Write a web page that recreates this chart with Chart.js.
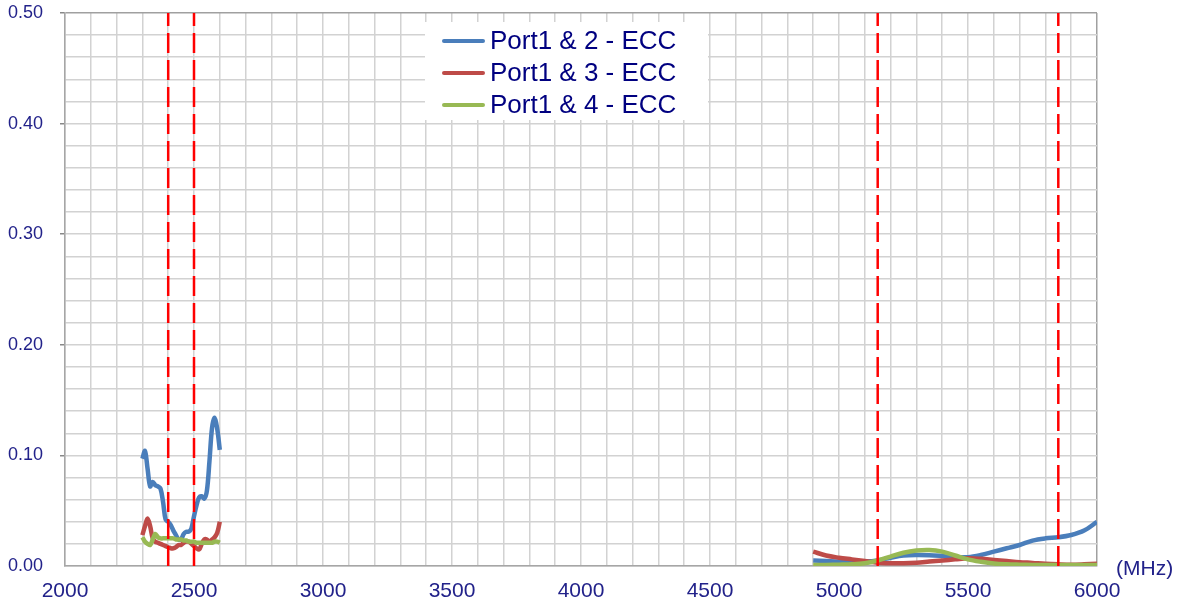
<!DOCTYPE html>
<html>
<head>
<meta charset="utf-8">
<title>ECC</title>
<script src="https://cdn.jsdelivr.net/npm/chart.js@4.4.1/dist/chart.umd.min.js"></script>
<style>
    html, body { margin: 0; padding: 0; background: #fff; }
    #wrap { width: 1181px; height: 609px; position: relative; }
</style>
</head>
<body>
<div id="wrap"><canvas id="chart-ecc"></canvas></div>
<script>
// Frequencies (MHz)
const LOW_FREQ = [2300, 2310, 2320, 2330, 2340, 2350, 2360, 2370, 2380, 2390, 2400,
    2410, 2420, 2430, 2440, 2450, 2460, 2470, 2480, 2490, 2500,
    2510, 2520, 2530, 2540, 2550, 2560, 2570, 2580, 2590, 2600];
const HIGH_FREQ = [4900, 4950, 5000, 5050, 5100, 5150, 5200, 5250, 5300, 5350, 5400,
    5450, 5500, 5550, 5600, 5650, 5700, 5750, 5800, 5850, 5900, 5950, 6000];

// Port1 & 2
const ECC12_LOW = [0.097, 0.104, 0.088, 0.072, 0.076, 0.073, 0.072, 0.070, 0.058, 0.042, 0.040,
    0.037, 0.032, 0.028, 0.024, 0.024, 0.029, 0.031, 0.031, 0.034, 0.045,
    0.055, 0.062, 0.063, 0.061, 0.068, 0.095, 0.125, 0.134, 0.124, 0.105];
const ECC12_HIGH = [0.005, 0.0045, 0.004, 0.004, 0.004, 0.005, 0.0075, 0.0095, 0.010, 0.0098, 0.009,
    0.008, 0.008, 0.010, 0.013, 0.016, 0.019, 0.023, 0.025, 0.026, 0.028, 0.032, 0.040];

// Port1 & 3
const ECC13_LOW = [0.028, 0.036, 0.043, 0.036, 0.025, 0.022, 0.021, 0.020, 0.019, 0.018, 0.017,
    0.016, 0.016, 0.017, 0.019, 0.019, 0.021, 0.022, 0.022, 0.020, 0.018,
    0.016, 0.015, 0.020, 0.024, 0.024, 0.022, 0.024, 0.026, 0.030, 0.040];
const ECC13_HIGH = [0.013, 0.0095, 0.0075, 0.006, 0.0045, 0.003, 0.0025, 0.0025, 0.003, 0.004, 0.005,
    0.006, 0.007, 0.0065, 0.0055, 0.0045, 0.0035, 0.0028, 0.002, 0.0015, 0.0012, 0.0015, 0.002];

// Port1 & 4
const ECC14_LOW = [0.026, 0.022, 0.020, 0.019, 0.024, 0.029, 0.026, 0.025, 0.025, 0.025, 0.025,
    0.025, 0.025, 0.024, 0.024, 0.024, 0.023, 0.023, 0.022, 0.022, 0.022,
    0.021, 0.021, 0.021, 0.021, 0.021, 0.021, 0.021, 0.022, 0.022, 0.021];
const ECC14_HIGH = [0.001, 0.001, 0.0012, 0.0015, 0.0025, 0.005, 0.0085, 0.012, 0.014, 0.0145, 0.013,
    0.0095, 0.006, 0.0038, 0.0022, 0.0015, 0.0012, 0.001, 0.001, 0.001, 0.001, 0.001, 0.001];

// Band edges (red dashed markers)
const BAND_EDGES = [2400, 2500, 5150, 5850];

const SERIES_LABELS = ['Port1 & 2 - ECC', 'Port1 & 3 - ECC', 'Port1 & 4 - ECC'];
const SERIES_COLORS = ['#4A7EBB', '#BE4B48', '#98B954'];

const X_LABELS = [2000, 2500, 3000, 3500, 4000, 4500, 5000, 5500, 6000];
const Y_LABELS = [0, 0.1, 0.2, 0.3, 0.4, 0.5];

const TEXT_COLOR = '#22228a';
const FONT = "'Liberation Sans', Arial, sans-serif";

function toPoints(low, high) {
    const a = LOW_FREQ.map((f, i) => ({ x: f, y: low[i] }));
    const b = HIGH_FREQ.map((f, i) => ({ x: f, y: high[i] }));
    // null point breaks the line between the two bands
    return a.concat([{ x: 3700, y: null }], b);
}

function isYLabel(v) {
    return Y_LABELS.some(l => Math.abs(l - v) < 1e-6);
}

const seriesData = [
    toPoints(ECC12_LOW, ECC12_HIGH),
    toPoints(ECC13_LOW, ECC13_HIGH),
    toPoints(ECC14_LOW, ECC14_HIGH),
];

const datasets = seriesData.map((pts, i) => ({
    label: SERIES_LABELS[i],
    data: pts,
    borderColor: SERIES_COLORS[i],
    backgroundColor: SERIES_COLORS[i],
    borderWidth: 4.5,
    pointRadius: 0,
    tension: 0.35,
    fill: false,
    order: 2 - i,
}));

BAND_EDGES.forEach(f => {
    datasets.push({
        label: 'edge',
        isMarker: true,
        data: [{ x: f, y: 0 }, { x: f, y: 0.5 }],
        borderColor: '#ff0000',
        borderWidth: 2.5,
        borderDash: [20, 7],
        pointRadius: 0,
        fill: false,
        order: -1,
    });
});

// legend box drawn over the plot, like the original
const eccLegend = {
    id: 'eccLegend',
    afterDraw(chart) {
        const ctx = chart.ctx;
        const area = chart.chartArea;
        const left = area.left + 360;
        const top = area.top + 9;
        ctx.save();
        ctx.fillStyle = '#ffffff';
        ctx.fillRect(left, top, 283, 98);
        const items = chart.data.datasets.filter(d => !d.isMarker);
        ctx.font = '26px ' + FONT;
        ctx.textBaseline = 'middle';
        ctx.textAlign = 'left';
        items.forEach((d, i) => {
            const y = top + 19 + i * 32;
            ctx.strokeStyle = d.borderColor;
            ctx.lineWidth = 4;
            ctx.lineCap = 'round';
            ctx.beginPath();
            ctx.moveTo(left + 19, y);
            ctx.lineTo(left + 58, y);
            ctx.stroke();
            ctx.fillStyle = '#000080';
            ctx.fillText(d.label, left + 65, y + 1);
        });
        ctx.restore();
    }
};

const unitLabel = {
    id: 'unitLabel',
    afterDraw(chart) {
        const ctx = chart.ctx;
        const area = chart.chartArea;
        ctx.save();
        ctx.font = '21px ' + FONT;
        ctx.fillStyle = TEXT_COLOR;
        ctx.textBaseline = 'middle';
        ctx.textAlign = 'left';
        ctx.fillText('(MHz)', area.right + 19, area.bottom + 3);
        ctx.restore();
    }
};

new Chart(document.getElementById('chart-ecc'), {
    type: 'line',
    data: { datasets },
    options: {
        responsive: true,
        maintainAspectRatio: false,
        animation: false,
        layout: { padding: { top: 13, right: 84, left: 0, bottom: 0 } },
        plugins: {
            legend: { display: false },
            tooltip: { enabled: false },
        },
        scales: {
            x: {
                type: 'linear',
                min: 2000,
                max: 6000,
                afterFit: s => { s.height = 43; s.paddingLeft = 0; s.paddingRight = 0; },
                ticks: {
                    stepSize: 100,
                    autoSkip: false,
                    maxRotation: 0,
                    padding: 13,
                    color: TEXT_COLOR,
                    font: { family: FONT, size: 21 },
                    callback: v => X_LABELS.includes(v) ? String(v) : '',
                },
                grid: {
                    drawTicks: false,
                    lineWidth: 1.5,
                    color: c => (c.tick && c.tick.value === 6000) ? '#a0a0a0' : '#d2d2d2',
                },
                border: { color: '#a6a6a6', width: 1.5 },
            },
            y: {
                min: 0,
                max: 0.5,
                afterFit: s => { s.width = 65; s.paddingTop = 0; s.paddingBottom = 0; },
                ticks: {
                    stepSize: 0.02,
                    autoSkip: false,
                    padding: 17,
                    color: TEXT_COLOR,
                    font: { family: FONT, size: 18 },
                    callback: v => isYLabel(v) ? v.toFixed(2) : '',
                },
                grid: {
                    lineWidth: 1.5,
                    tickLength: 5,
                    tickColor: c => (c.tick && isYLabel(c.tick.value) && c.tick.value > 0) ? '#888888' : 'rgba(0,0,0,0)',
                    color: c => (c.tick && Math.abs(c.tick.value - 0.5) < 1e-6) ? '#a0a0a0' : '#d2d2d2',
                },
                border: { color: '#a6a6a6', width: 1.5 },
            },
        },
    },
    plugins: [eccLegend, unitLabel],
});
</script>
</body>
</html>
